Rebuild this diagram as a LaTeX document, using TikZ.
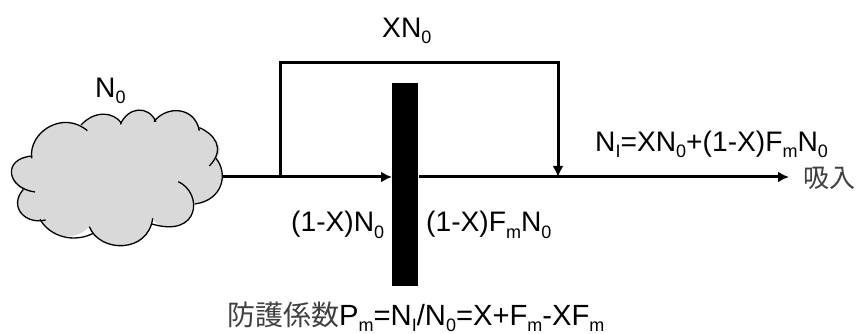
\documentclass[tikz,border=0pt]{standalone}
\usepackage{fontspec}
\setmainfont{Liberation Sans}
\newfontfamily\cjk{Noto Sans CJK JP}
\usetikzlibrary{arrows.meta}
\tikzset{
  lbl/.style={font=\fontsize{28.2}{30}\selectfont,inner sep=0pt,anchor=base west},
  widelbl/.style={font=\fontsize{29.2}{30}\selectfont,inner sep=0pt,anchor=base west},
  cjklbl/.style={font=\fontsize{26}{28}\selectfont\cjk\color{black!75},inner sep=0pt,anchor=base west},
  flow/.style={line width=3pt},
  tip/.style={-{Latex[length=11pt,width=11pt]}},
  cloudline/.style={line width=1.3pt},
}
\newcommand{\sbs}[1]{\raisebox{-6pt}{\fontsize{18}{18}\selectfont #1}}
\begin{document}
\begin{tikzpicture}[x=1pt,y=-1pt]
\useasboundingbox (0,0) rectangle (860,334);
% cloud
\begin{scope}[shift={(0,60)},x=0.3333pt,y=-0.3333pt]
\fill[black!15] (95,290) .. controls (85,215) and (190,150) .. (260,210) -- (245,195) .. controls (285,150) and (340,155) .. (365,190) .. controls (385,140) and (445,135) .. (468,185) .. controls (500,135) and (585,140) .. (598,205) .. controls (640,220) and (680,265) .. (648,295) .. controls (685,340) and (670,420) .. (585,432) .. controls (575,490) and (510,530) .. (458,480) .. controls (445,580) and (300,580) .. (268,500) .. controls (220,550) and (150,530) .. (122,478) .. controls (75,495) and (30,440) .. (70,388) .. controls (20,375) and (20,290) .. (95,290) -- cycle;
\draw[cloudline] (95,295) .. controls (85,215) and (190,150) .. (262,212);
\draw[cloudline] (243,195) .. controls (285,150) and (340,155) .. (365,190);
\draw[cloudline] (361,193) .. controls (385,140) and (445,135) .. (468,185);
\draw[cloudline] (462,185) .. controls (500,135) and (585,140) .. (598,212);
\draw[cloudline] (598,203) .. controls (640,220) and (680,265) .. (628,318);
\draw[cloudline] (648,295) .. controls (685,340) and (670,420) .. (585,432);
\draw[cloudline] (535,365) .. controls (610,400) and (600,535) .. (456,492);
\draw[cloudline] (458,475) .. controls (445,580) and (300,580) .. (268,500);
\draw[cloudline] (280,520) .. controls (220,550) and (150,530) .. (120,478);
\draw[cloudline] (137,480) .. controls (75,495) and (25,440) .. (70,388);
\draw[cloudline] (105,396) .. controls (20,385) and (5,295) .. (97,288);
\end{scope}
\coordinate (cloudR) at (223,177);
\coordinate (branch) at (280,177);
\coordinate (topL) at (280,63);
\coordinate (topR) at (558,63);
\coordinate (merge) at (558,177);
\coordinate (mergeS) at (558,160);
\coordinate (mid) at (392,177);
\coordinate (midR) at (419,177);
\coordinate (outR) at (789,177);
\node[fill=black,minimum width=26pt,minimum height=203pt,inner sep=0pt] (bar) at (404.5,184.5) {};
\draw[flow] (cloudR) -- (branch);
\draw[flow,tip] (branch) -- (mid);
\draw[flow,line join=miter] (branch) -- (topL) -- (topR) -- (mergeS);
\draw[flow,tip] (topR) -- (merge);
\draw[flow,tip] (midR) -- (outR);
\node[lbl] (a) at (95,98) {N\sbs{0}};
\node[lbl] (b) at (382,38) {XN\sbs{0}};
\node[lbl] (c) at (595,152) {N\sbs{I}=XN\sbs{0}+(1-X)F\sbs{m}N\sbs{0}};
\node[cjklbl] (d) at (803,188) {吸入};
\node[lbl] (e) at (291,232) {(1-X)N\sbs{0}};
\node[lbl] (f) at (426,232) {(1-X)F\sbs{m}N\sbs{0}};
\node[widelbl] (g) at (227,325) {{\fontsize{28}{30}\selectfont\cjk\color{black!75}防護係数}P\sbs{m}=N\sbs{I}/N\sbs{0}=X+F\sbs{m}-XF\sbs{m}};
\end{tikzpicture}
\end{document}
